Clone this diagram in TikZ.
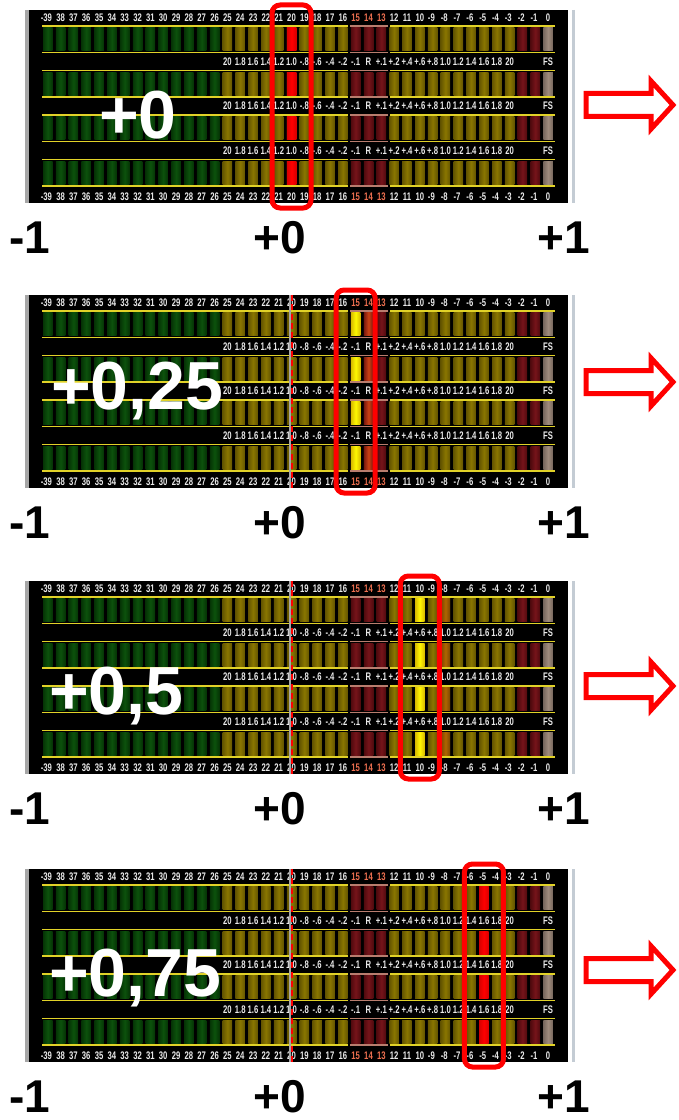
\documentclass[tikz,border=0pt]{standalone}
\usepackage{fontspec}
\setmainfont{Liberation Sans}
\usetikzlibrary{calc}
\definecolor{ledgreen}{RGB}{12,82,12}
\definecolor{ledgreenD}{RGB}{5,52,5}
\definecolor{ledolive}{RGB}{138,118,0}
\definecolor{ledoliveD}{RGB}{100,85,0}
\definecolor{ledred}{RGB}{118,20,26}
\definecolor{ledredD}{RGB}{80,10,14}
\definecolor{ledtan}{RGB}{160,140,125}
\definecolor{ledtanD}{RGB}{120,104,94}
\definecolor{ledline}{RGB}{225,210,40}
\definecolor{ledpink}{RGB}{185,125,110}
\definecolor{ledsalmon}{RGB}{238,112,80}
\definecolor{ledtext}{RGB}{235,235,235}
\definecolor{hl}{RGB}{255,0,0}
\definecolor{actred}{RGB}{255,0,0}
\definecolor{actredD}{RGB}{215,0,0}
\definecolor{actyel}{RGB}{255,248,0}
\definecolor{actyelD}{RGB}{215,185,0}
\definecolor{actorg}{RGB}{205,65,20}
\definecolor{actorgD}{RGB}{120,24,14}
\definecolor{actbrn}{RGB}{175,100,0}
\definecolor{actbrnD}{RGB}{120,68,0}
\definecolor{rimgray}{RGB}{196,204,212}
\newcommand\lcdfont{\fontsize{8.25}{9}\selectfont\bfseries}
\newcommand\nar[1]{\scalebox{0.7}[1]{#1}}
\tikzset{
  toplab/.style={text=ledtext, inner sep=0pt, font=\lcdfont},
  midlab/.style={text=ledtext, inner sep=0pt, font=\lcdfont},
  ylw/.style={draw=ledline, line width=1.1pt},
  pinkl/.style={draw=ledpink, line width=1.1pt},
  rim/.style={draw=rimgray, line width=2pt},
  hlbox/.style={draw=hl, line width=3.75pt, rounded corners=6pt},
  cursor/.style={draw=hl, line width=1.5pt, dash pattern=on 4.5pt off 2.5pt},
  cursorbg/.style={draw=gray!70, line width=1pt},
  bigval/.style={text=white, font=\fontsize{51}{58}\selectfont\bfseries, inner sep=0pt, anchor=base west},
  axlab/.style={text=black, font=\fontsize{34.5}{40}\selectfont\bfseries, inner sep=0pt, anchor=base},
  bigarrow/.style={draw=hl, line width=3.75pt, line join=miter},
}
% one meter panel: #1 = top y, #2 = panel id
\newcommand\ledpanel[2]{%
  \fill[black] (25,#1) rectangle (568,#1+193);
  \fill[gray!70] (25,#1) rectangle (29,#1+193);
  \draw[rim] (573.5,#1) -- (573.5,#1+193);
  \foreach \k in {0,1,2,3} {
    \pgfmathsetmacro\ra{#1+16+44.5*\k}
    \pgfmathsetmacro\rb{\ra+26.5}
    \foreach \i in {0,...,39} {
      \pgfmathsetmacro\bx{43+12.83*\i}
      \ifnum\i<14 \def\bc{ledgreen}\def\bd{ledgreenD}\else
      \ifnum\i<24 \def\bc{ledolive}\def\bd{ledoliveD}\else
      \ifnum\i<27 \def\bc{ledred}\def\bd{ledredD}\else
      \ifnum\i<37 \def\bc{ledolive}\def\bd{ledoliveD}\else
      \ifnum\i<39 \def\bc{ledred}\def\bd{ledredD}\else
      \def\bc{ledtan}\def\bd{ledtanD}\fi\fi\fi\fi\fi
      \fill[left color=\bd, right color=\bd, middle color=\bc] (\bx,\ra+1.8) rectangle ++(9.5,23);
    }
    \draw[ylw] (42,\ra) -- (348,\ra) (390,\ra) -- (555,\ra)
               (42,\rb) -- (348,\rb) (390,\rb) -- (555,\rb);
    \draw[pinkl] (350,\ra) -- (388,\ra) (350,\rb) -- (388,\rb);
  }
  \foreach \v [count=\i from 0] in {39,38,...,0} {
    \pgfmathsetmacro\bx{47.75+12.83*\i}
    \def\sg{}
    \ifnum\i=0 \def\sg{\llap{-}}\fi
    \ifnum\v<10 \ifnum\v>0 \def\sg{\llap{-}}\fi\fi
    \def\lc{ledtext}
    \ifnum\v<16 \ifnum\v>12 \def\lc{ledsalmon}\fi\fi
    \node[toplab, text=\lc] (p#2t\i) at (\bx,#1+8) {\nar{\sg\v}};
    \node[toplab, text=\lc] (p#2b\i) at (\bx,#1+186.5) {\nar{\sg\v}};
  }
  \foreach \lab [count=\i from 14] in {20,1.8,1.6,1.4,1.2,1.0,-.8,-.6,-.4,-.2,-.1,R,+.1,+.2,+.4,+.6,+.8,1.0,1.2,1.4,1.6,1.8,20} {
    \pgfmathsetmacro\bx{47.75+12.83*\i}
    \foreach \m/\yy in {1/51.5,2/96,3/140.5}
      \node[midlab] (p#2m\m-\i) at (\bx,#1+\yy) {\nar{\lab}};
  }
  \foreach \m/\yy in {1/51.5,2/96,3/140.5}
    \node[midlab] (p#2fs\m) at (548.1,#1+\yy) {\nar{FS}};
}
% lit segment in all four rows: #1 = top y, #2 = index, #3 colour, #4 edge colour
\newcommand\litbar[4]{%
  \foreach \k in {0,1,2,3} {
    \pgfmathsetmacro\ra{#1+16+44.5*\k}
    \fill[left color=#4, right color=#4, middle color=#3] (43+12.83*#2,\ra+1.8) rectangle ++(9.5,23);
  }
}
% highlight frame round segment #2 of panel at top #1, named #3
\newcommand\hlframe[3]{%
  \draw[hlbox] (47.75+12.83*#2-19.5,#1-5) rectangle (47.75+12.83*#2+19.5,#1+198);
  \coordinate (#3) at (47.75+12.83*#2,#1+96);
}
\newcommand\zeroline[2]{%
  \draw[cursorbg] (290,#1) -- (290,#1+193);
  \draw[cursor] (291.5,#1) -- (291.5,#1+193);
  \coordinate (#2) at (291.5,#1);
}
\newcommand\bigarrowat[2]{%
  \draw[bigarrow] (586,#1-11.5) -- (651,#1-11.5) -- (651,#1-24) -- (673,#1) -- (651,#1+24) -- (651,#1+11.5) -- (586,#1+11.5) -- cycle;
  \coordinate (#2) at (630,#1);
}
\newcommand\axislabels[2]{%
  \node[axlab] (m#2) at (30,#1) {-1};
  \node[axlab] (z#2) at (280,#1) {+0};
  \node[axlab] (o#2) at (564,#1) {+1};
}
\begin{document}
\begin{tikzpicture}[x=0.75pt, y=-0.75pt]
\useasboundingbox (0,0) rectangle (678,1120);
\fill[white] (0,0) rectangle (678,1120);
% panel 1
\ledpanel{10}{1}
\litbar{10}{19}{actred}{actredD}
\node[bigval] (big1) at (99,139) {+0};
\hlframe{10}{19}{f1}
\bigarrowat{105}{a1}
\axislabels{253}{1}
% panel 2
\ledpanel{295}{2}
\litbar{295}{24}{actyel}{actyelD}
\litbar{295}{25}{actorg}{actorgD}
\node[bigval] (big2) at (51,409) {+0,25};
\zeroline{295}{c2}
\hlframe{295}{24}{f2}
\bigarrowat{382}{a2}
\axislabels{538}{2}
% panel 3
\ledpanel{581}{3}
\litbar{581}{29}{actyel}{actyelD}
\litbar{581}{31}{actbrn}{actbrnD}
\node[bigval] (big3) at (49,714) {+0,5};
\zeroline{581}{c3}
\hlframe{581}{29}{f3}
\bigarrowat{686}{a3}
\axislabels{824}{3}
% panel 4
\ledpanel{869}{4}
\litbar{869}{34}{actred}{actredD}
\node[bigval] (big4) at (49,996) {+0,75};
\zeroline{869}{c4}
\hlframe{869}{34}{f4}
\bigarrowat{970}{a4}
\axislabels{1112}{4}
\end{tikzpicture}
\end{document}
